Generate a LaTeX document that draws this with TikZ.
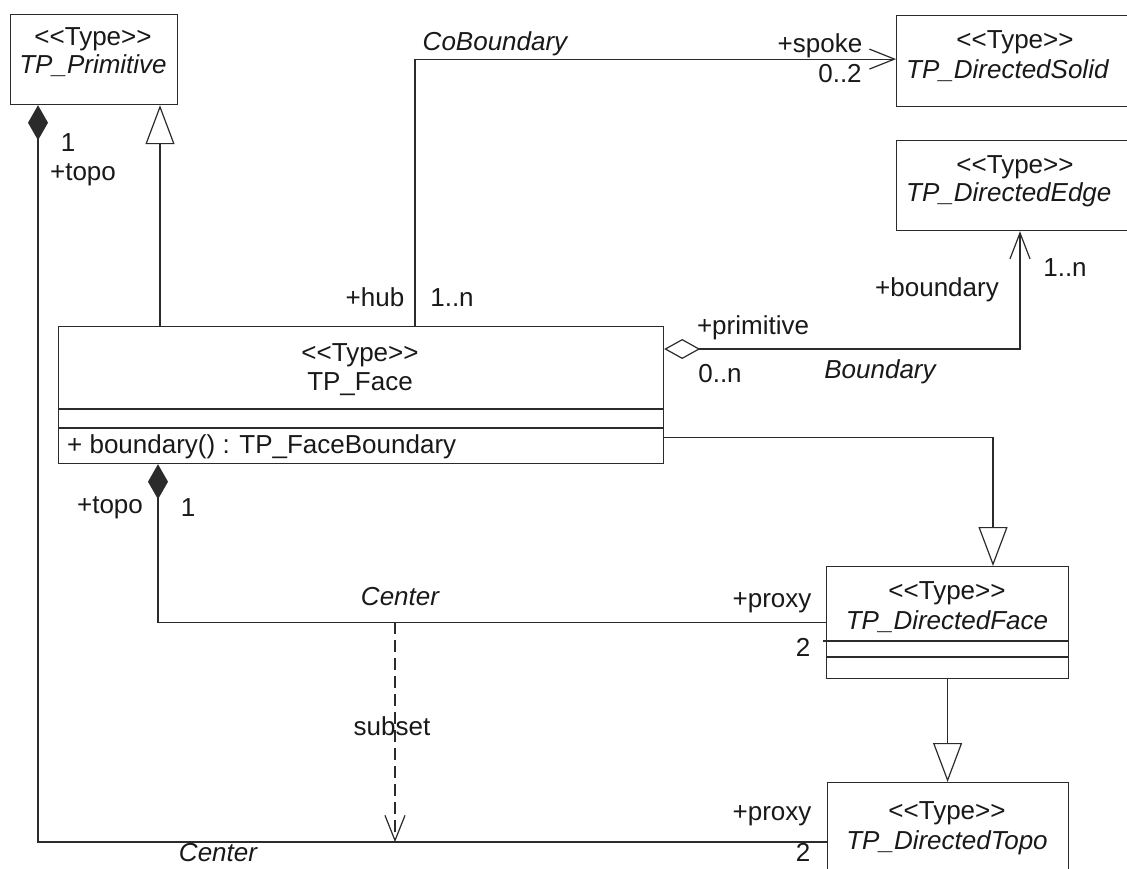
\documentclass[tikz,border=0pt]{standalone}
\usepackage{fontspec}
\setmainfont{Liberation Sans}
\usetikzlibrary{arrows.meta,calc}
\definecolor{lc}{HTML}{2B2B2B}
\newcommand{\stereo}{<{}<Type>{}>}
\tikzset{
 lbl/.style={font=\fontsize{26}{30}\selectfont, inner sep=0pt, text height=18pt, text depth=5pt, text=black!90},
 ilbl/.style={lbl, font=\fontsize{26}{30}\selectfont\itshape},
 cls/.style={draw=lc, line width=1.2pt, inner sep=0pt, anchor=north west},
 conn/.style={draw=lc, line width=1.2pt},
 comp/.style={conn, {Diamond[length=35pt,width=20pt]}-},
 agg/.style={conn, {Diamond[open,length=36pt,width=20pt]}-{Straight Barb[length=26pt,width=20pt]}},
 gen/.style={conn, -{Triangle[open,length=39pt,width=29pt]}},
 nav/.style={conn, -{Straight Barb[length=25pt,width=20pt]}},
 dep/.style={nav, dash pattern=on 12pt off 6pt},
}
\begin{document}
\begin{tikzpicture}[x=1pt,y=-1pt]
\useasboundingbox (0,0) rectangle (1127,868);
\clip (0,0) rectangle (1127,868);
\fill[white] (0,0) rectangle (1127,868);

% class boxes
\node[cls, minimum width=167pt, minimum height=90pt] (prim) at (10,14) {};
\node[cls, minimum width=240pt, minimum height=91pt] (solid) at (896,15) {};
\node[cls, minimum width=240pt, minimum height=90pt] (edge) at (896,140) {};
\node[cls, minimum width=605pt, minimum height=137pt] (face) at (58,326) {};
\node[cls, minimum width=242pt, minimum height=112pt] (dface) at (826,566) {};
\node[cls, minimum width=241pt, minimum height=100pt] (topo) at (827,782) {};

% compartments
\draw[conn] (58,409) -- (663,409);
\draw[conn] (58,428) -- (663,428);
\draw[conn] (823,641) -- (1068,641);
\draw[conn] (826,657) -- (1068,657);

% class texts
\node[lbl] (primS) at (93,39) {\stereo};
\node[ilbl] (primN) at (93,67) {TP\_Primitive};
\node[lbl] (solidS) at (1015,42) {\stereo};
\node[ilbl, anchor=west] (solidN) at (906,72) {TP\_DirectedSolid};
\node[lbl] (edgeS) at (1015,167) {\stereo};
\node[ilbl, anchor=west] (edgeN) at (906,195) {TP\_DirectedEdge};
\node[lbl] (faceS) at (360,355) {\stereo};
\node[lbl] (faceN) at (360,384) {TP\_Face};
\node[lbl, anchor=west] (faceM) at (67,447) {+ boundary() : TP\_FaceBoundary};
\node[lbl] (dfaceS) at (947,593) {\stereo};
\node[ilbl] (dfaceN) at (947,623) {TP\_DirectedFace};
\node[lbl] (topoS) at (947,813) {\stereo};
\node[ilbl] (topoN) at (947,843) {TP\_DirectedTopo};

% connectors
\coordinate (cb) at (38,842);
\draw[comp] ([xshift=28pt]prim.south west) -- (cb) -- (cb -| topo.west);
\draw[gen] ([xshift=102pt]face.north west) -- ([xshift=150pt]prim.south west);
\draw[nav] ([xshift=357pt]face.north west) |- ([yshift=2pt]solid.west);
\draw[agg] ([yshift=-23pt]face.north east) -| ([xshift=124pt]edge.south west);
\draw[gen] ([yshift=27pt]face.south east) -| ([xshift=167pt]dface.north west);
\draw[gen] (dface.south) -- (dface.south |- topo.north);
\draw[comp] ([xshift=100pt]face.south west) |- (dface.west);
\coordinate (s1) at (395,622);
\draw[dep] (s1) -- (s1 |- cb);

% connector labels
\node[lbl] (l1) at (68,145) {1};
\node[lbl] (l2) at (83,174) {+topo};
\node[ilbl] (l3) at (495,44) {CoBoundary};
\node[lbl] (l4) at (820,46) {+spoke};
\node[lbl] (l5) at (840,76) {0..2};
\node[lbl] (l6) at (375,300) {+hub};
\node[lbl] (l7) at (452,300) {1..n};
\node[lbl] (l8) at (753,328) {+primitive};
\node[lbl] (l9) at (720,376) {0..n};
\node[ilbl] (l10) at (880,372) {Boundary};
\node[lbl] (l11) at (937,290) {+boundary};
\node[lbl] (l12) at (1065,270) {1..n};
\node[lbl] (l13) at (110,507) {+topo};
\node[lbl] (l14) at (188,510) {1};
\node[ilbl] (l15) at (400,599) {Center};
\node[lbl] (l16) at (772,601) {+proxy};
\node[lbl] (l17) at (803,650) {2};
\node[lbl] (l18) at (392,729) {subset};
\node[lbl] (l19) at (772,814) {+proxy};
\node[lbl] (l20) at (803,855) {2};
\node[ilbl] (l21) at (218,855) {Center};
\end{tikzpicture}
\end{document}
